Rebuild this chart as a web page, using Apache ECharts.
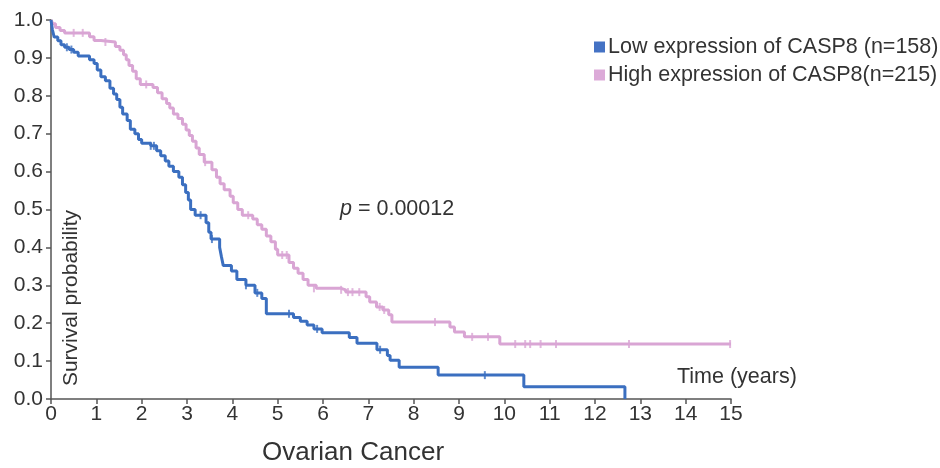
<!DOCTYPE html>
<html>
<head>
<meta charset="utf-8">
<script src="https://cdn.jsdelivr.net/npm/echarts@6/dist/echarts.min.js"></script>
<style>
html,body{margin:0;padding:0;background:#fff;}
#chart{width:940px;height:468px;}
</style>
</head>
<body>
<div id="chart"></div>
<script>
// Kaplan-Meier step points: [time (years), survival probability after the drop]
const lowName = 'Low expression of CASP8 (n=158)';
const highName = 'High expression of CASP8(n=215)';
const lowTimes = [0,0.03,0.07,0.15,0.22,0.3,0.4,0.5,0.6,0.85,0.95,1.02,1.1,1.2,1.3,1.38,1.45,1.52,1.58,1.68,1.75,1.85,1.93,2.0,2.2,2.33,2.42,2.52,2.6,2.7,2.82,2.9,2.97,3.03,3.08,3.18,3.42,3.48,3.53,3.72,3.76,3.8,3.98,4.1,4.3,4.5,4.65,4.75,5.35,5.5,5.65,5.8,5.98,6.58,6.75,7.19,7.42,7.48,7.68,8.54,10.43,12.66];
const lowSurv  = [1.0,0.975,0.955,0.945,0.935,0.928,0.922,0.915,0.905,0.895,0.885,0.868,0.85,0.84,0.82,0.805,0.79,0.77,0.752,0.735,0.712,0.7,0.685,0.675,0.668,0.655,0.642,0.628,0.614,0.6,0.585,0.565,0.545,0.525,0.5,0.485,0.465,0.44,0.422,0.4,0.375,0.352,0.338,0.315,0.3,0.28,0.265,0.225,0.215,0.205,0.195,0.185,0.175,0.162,0.147,0.13,0.115,0.102,0.084,0.063,0.032,0.0];
const highTimes = [0,0.04,0.1,0.2,0.3,0.85,0.95,1.1,1.42,1.52,1.6,1.66,1.72,1.8,1.88,1.97,2.25,2.35,2.45,2.55,2.62,2.7,2.8,2.9,2.98,3.05,3.12,3.2,3.27,3.38,3.55,3.65,3.73,3.82,3.95,4.02,4.12,4.22,4.45,4.55,4.65,4.75,4.85,4.95,5.0,5.25,5.35,5.45,5.56,5.67,5.85,6.4,6.5,6.95,7.03,7.18,7.32,7.45,7.52,8.8,8.9,9.12,9.9,15];
const highSurv  = [1.0,0.99,0.98,0.972,0.966,0.956,0.946,0.942,0.93,0.92,0.908,0.895,0.88,0.865,0.845,0.83,0.822,0.808,0.792,0.78,0.768,0.752,0.74,0.725,0.71,0.695,0.68,0.662,0.645,0.625,0.605,0.585,0.568,0.552,0.535,0.518,0.5,0.485,0.475,0.46,0.448,0.43,0.415,0.395,0.38,0.36,0.345,0.332,0.315,0.3,0.292,0.288,0.282,0.27,0.256,0.243,0.235,0.222,0.203,0.19,0.177,0.164,0.145,0.145];
// censoring marks
const lowCensorTimes = [0.35,0.45,2.2,2.27,3.3,3.55,4.3,4.55,5.25,5.87,7.26,9.57];
const lowCensorSurv  = [0.928,0.922,0.668,0.668,0.485,0.422,0.3,0.28,0.225,0.185,0.13,0.063];
const highCensorTimes = [0.5,0.7,1.2,2.1,3.4,4.35,5.1,5.2,5.8,6.4,6.55,6.65,6.8,7.25,7.35,8.47,9.29,9.64,10.24,10.46,10.57,10.8,11.14,12.75,14.98];
const highCensorSurv  = [0.966,0.966,0.942,0.83,0.625,0.485,0.38,0.38,0.292,0.288,0.282,0.282,0.282,0.243,0.235,0.203,0.164,0.164,0.145,0.145,0.145,0.145,0.145,0.145,0.145];
const xTicks = [0,1,2,3,4,5,6,7,8,9,10,11,12,13,14,15];
const yTicks = [0,0.1,0.2,0.3,0.4,0.5,0.6,0.7,0.8,0.9,1.0];
const pText = '0.00012';

const zip = (a, b) => a.map((v, i) => [v, b[i]]);
const blue = '#3b6fc0';
const pink = '#d9a5d4';
const txt = '#333333';
const axisCol = '#555555';
const font = 'Liberation Sans, Arial, sans-serif';

const chart = echarts.init(document.getElementById('chart'), null, {renderer: 'canvas'});
chart.setOption({
  animation: false,
  backgroundColor: '#ffffff',
  grid: {left: 51, right: 209, top: 20, bottom: 69, containLabel: false},
  legend: {
    orient: 'vertical', left: 589, top: 31, itemWidth: 11, itemHeight: 11, itemGap: 6,
    icon: 'rect',
    textStyle: {fontSize: 21.5, color: txt, fontFamily: font, padding: [0,0,0,-2]},
    data: [{name: lowName, itemStyle: {color: '#4472c4'}}, {name: highName, itemStyle: {color: '#dcaad8'}}]
  },
  xAxis: {
    type: 'value', min: xTicks[0], max: xTicks[xTicks.length - 1], interval: 1,
    axisLine: {show: true, lineStyle: {color: axisCol, width: 1.5}},
    axisTick: {show: true, length: 5, lineStyle: {color: axisCol, width: 1.5}},
    axisLabel: {fontSize: 21, color: txt, fontFamily: font, margin: 5},
    splitLine: {show: false}
  },
  yAxis: {
    type: 'value', min: yTicks[0], max: yTicks[yTicks.length - 1], interval: 0.1,
    axisLine: {show: true, lineStyle: {color: axisCol, width: 1.5}},
    axisTick: {show: true, length: 5, lineStyle: {color: axisCol, width: 1.5}},
    axisLabel: {fontSize: 21, color: txt, fontFamily: font, margin: 8, formatter: v => v.toFixed(1)},
    splitLine: {show: false}
  },
  series: [
    {name: lowName, type: 'line', step: 'end', showSymbol: false, symbol: 'none',
     data: zip(lowTimes, lowSurv), lineStyle: {color: blue, width: 3}, itemStyle: {color: blue}, z: 3},
    {name: highName, type: 'line', step: 'end', showSymbol: false, symbol: 'none',
     data: zip(highTimes, highSurv), lineStyle: {color: pink, width: 3}, itemStyle: {color: pink}, z: 2},
    {name: lowName, type: 'scatter', symbol: 'rect', symbolSize: [2, 8],
     data: zip(lowCensorTimes, lowCensorSurv), itemStyle: {color: blue}, z: 4},
    {name: highName, type: 'scatter', symbol: 'rect', symbolSize: [2, 8],
     data: zip(highCensorTimes, highCensorSurv), itemStyle: {color: pink}, z: 3}
  ],
  graphic: [
    {type: 'text', left: 340, top: 198, style: {
      text: '{i|p} = ' + pText, fill: txt, font: '21.5px ' + font,
      rich: {i: {fontStyle: 'italic', fontSize: 21.5, fontFamily: font, fill: txt}}}},
    {type: 'text', left: 677, top: 366, style: {text: 'Time (years)', fill: txt, font: '21.5px ' + font}},
    {type: 'text', x: 61, y: 298, rotation: Math.PI / 2, style: {
      text: 'Survival probability', fill: txt, font: '21px ' + font, align: 'center', verticalAlign: 'top'}},
    {type: 'text', x: 353, y: 440, style: {
      text: 'Ovarian Cancer', fill: txt, font: '26px ' + font, align: 'center', verticalAlign: 'top'}}
  ]
});
</script>
</body>
</html>
